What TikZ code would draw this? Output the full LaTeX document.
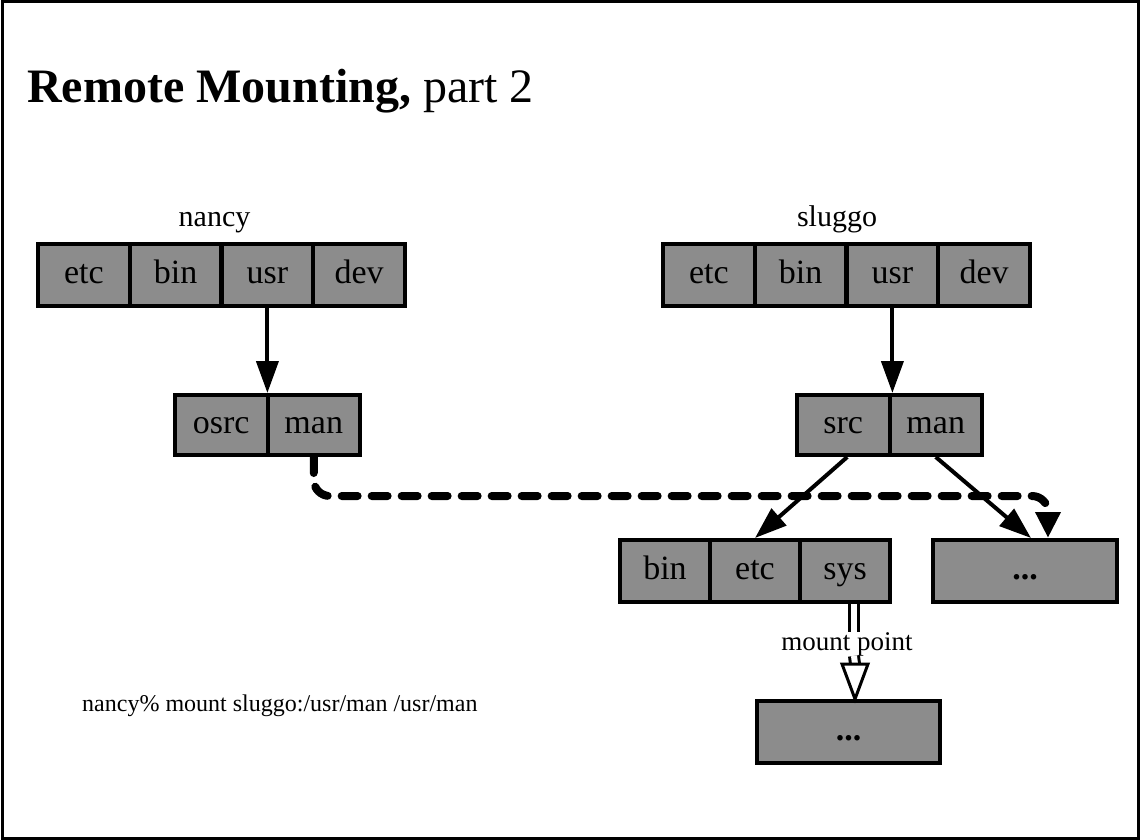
\documentclass[tikz,border=0pt]{standalone}
\usepackage{fontspec}
\setmainfont{Liberation Serif}
\usetikzlibrary{arrows.meta}
\tikzset{
  cell/.style={draw, line width=4pt, fill=black!45, inner sep=0pt,
    minimum height=62pt, text height=23pt, text depth=6pt,
    font=\fontsize{34}{34}\selectfont},
  arr/.style={line width=4pt, -{Triangle[length=32pt, width=22pt]}},
  dasharr/.style={line width=8pt, line cap=round, dash pattern=on 16pt off 14pt,
    rounded corners=16pt, -{Triangle[length=26pt, width=24pt]}},
  lbl/.style={font=\fontsize{30}{30}\selectfont, inner sep=0pt},
  dbl/.style={line width=3pt, double, double distance=6pt},
}
\begin{document}
\begin{tikzpicture}[x=1pt,y=-1pt]
\useasboundingbox (0,0) rectangle (1140,840);
\draw[line width=3pt] (2,2) rectangle (1138,838);

\node[anchor=base west, inner sep=0pt, font=\fontsize{48}{48}\selectfont] (title) at (27,103)
  {\textbf{Remote Mounting,} part 2};

% nancy
\node[lbl, anchor=base] (nancy) at (214.5,226) {nancy};
\node[cell, minimum width=91.75pt] (netc) at (83.9,274.5) {etc};
\node[cell, minimum width=91.75pt] (nbin) at (175.6,274.5) {bin};
\node[cell, minimum width=91.75pt] (nusr) at (267.4,274.5) {usr};
\node[cell, minimum width=91.75pt] (ndev) at (359.1,274.5) {dev};
\node[cell, minimum width=92.5pt, minimum height=60pt] (nosrc) at (221.25,425) {osrc};
\node[cell, minimum width=92.5pt, minimum height=60pt] (nman) at (313.75,425) {man};
\draw[arr] (nusr.south) -- (nusr.south |- nosrc.north);

% sluggo
\node[lbl, anchor=base] (sluggo) at (837,226) {sluggo};
\node[cell, minimum width=91.75pt] (setc) at (708.9,274.5) {etc};
\node[cell, minimum width=91.75pt] (sbin) at (800.6,274.5) {bin};
\node[cell, minimum width=91.75pt] (susr) at (892.4,274.5) {usr};
\node[cell, minimum width=91.75pt] (sdev) at (984.1,274.5) {dev};
\node[cell, minimum width=92.5pt, minimum height=60pt] (ssrc) at (843.25,425) {src};
\node[cell, minimum width=92.5pt, minimum height=60pt] (sman) at (935.75,425) {man};
\draw[arr] (susr.south) -- (susr.south |- ssrc.north);

% level 3
\node[cell, minimum width=90pt] (bbin) at (665,571) {bin};
\node[cell, minimum width=90pt] (betc) at (755,571) {etc};
\node[cell, minimum width=90pt] (bsys) at (845,571) {sys};
\node[cell, minimum width=184pt] (dots) at (1025,571) {\textbf{...}};
\draw[arr] ([xshift=4pt]ssrc.south) -- (betc.north);
\draw[arr] (sman.south) -- ([xshift=6pt]dots.north);

% mounted
\node[cell, minimum width=183pt, minimum height=62pt] (bot) at (848.5,732) {\textbf{...}};
\node[inner sep=0pt, font=\fontsize{27}{27}\selectfont, anchor=base] (mp) at (847,650) {mount point};
\coordinate (mtop) at ([xshift=9pt]bsys.south);
\coordinate (mtri) at (855,664);
\draw[dbl] (mtop) -- (mtop |- mp.north);
\draw[dbl] (mtop |- mp.south) -- (mtri);
\draw[line width=3pt, fill=white, line join=miter] ([xshift=-13pt]mtri) -- ([xshift=13pt]mtri) -- (mtri |- bot.north) -- cycle;

% dashed mount
\coordinate (dturn) at (1048,496);
\draw[dasharr] (nman.south) |- (dturn) -- ([xshift=23pt]dots.north);

\node[anchor=base west, inner sep=0pt, font=\fontsize{24}{24}\selectfont] (cmd) at (82,711)
  {nancy\% mount sluggo:/usr/man /usr/man};
\end{tikzpicture}
\end{document}
